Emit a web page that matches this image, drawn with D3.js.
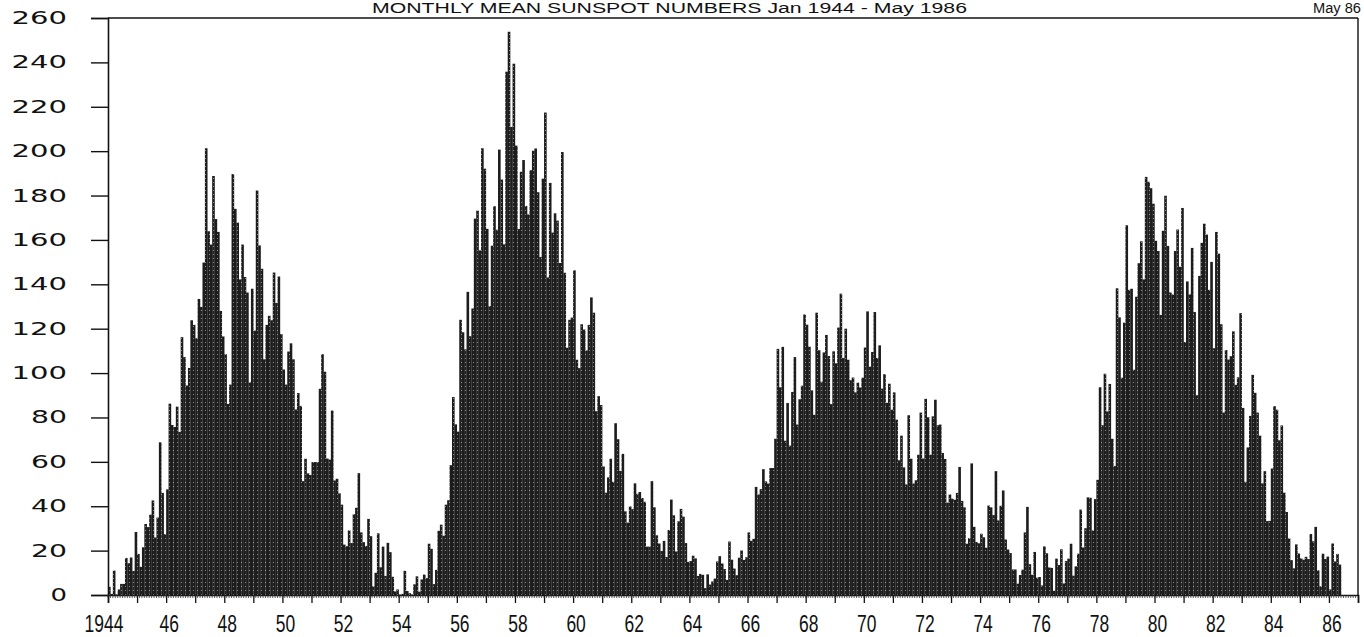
<!DOCTYPE html>
<html>
<head>
<meta charset="utf-8">
<script src="https://cdn.jsdelivr.net/npm/d3@7"></script>
<style>
  html, body { margin: 0; padding: 0; background: #fff; overflow: hidden; }
  svg { display: block; }
</style>
</head>
<body>
<svg id="chart"></svg>
<script>
// Monthly mean sunspot numbers, Jan 1944 .. May 1986 (one row per year)
const startYear = 1944;
const monthlyMean = [
  3.7, 0.5, 11.0, 0.3, 2.5, 5.0, 5.0, 16.7, 14.3, 16.9, 10.8, 28.4,            // 1944
  18.5, 12.7, 21.5, 32.0, 30.6, 36.2, 42.6, 25.9, 34.9, 68.8, 46.0, 27.4,      // 1945
  47.6, 86.2, 76.6, 75.7, 84.9, 73.5, 116.2, 107.2, 94.4, 102.3, 123.8, 121.7, // 1946
  115.7, 133.4, 129.8, 149.8, 201.3, 163.9, 157.9, 188.8, 169.4, 163.6, 128.0, 116.5, // 1947
  108.5, 86.1, 94.8, 189.7, 174.0, 167.8, 142.2, 157.9, 143.3, 136.3, 95.8, 138.0,    // 1948
  119.1, 182.3, 157.5, 147.0, 106.2, 121.7, 125.8, 123.8, 145.3, 131.6, 143.5, 117.6, // 1949
  101.6, 94.8, 109.7, 113.4, 106.2, 83.6, 91.0, 85.2, 51.3, 61.4, 54.8, 54.1,  // 1950
  59.9, 59.9, 59.9, 92.9, 108.5, 100.6, 61.5, 61.0, 83.1, 51.6, 52.4, 45.8,    // 1951
  40.7, 22.7, 22.0, 29.1, 23.4, 36.4, 39.3, 54.9, 28.2, 23.8, 22.1, 34.3,      // 1952
  26.5, 3.9, 10.0, 27.8, 12.5, 21.8, 8.6, 23.5, 19.3, 8.2, 1.6, 2.5,           // 1953
  0.2, 0.5, 10.9, 1.8, 0.8, 0.2, 4.8, 8.4, 1.5, 7.0, 9.2, 7.6,                 // 1954
  23.1, 20.8, 4.9, 11.3, 28.9, 31.7, 26.7, 40.7, 42.7, 58.5, 89.2, 76.9,       // 1955
  73.6, 124.0, 118.4, 110.7, 136.6, 116.6, 129.1, 169.6, 173.2, 155.3, 201.3, 192.1,  // 1956
  165.0, 130.2, 157.4, 175.2, 164.6, 200.7, 187.2, 158.0, 235.8, 253.8, 210.9, 239.4, // 1957
  202.5, 164.9, 190.7, 196.0, 175.3, 171.5, 191.4, 200.2, 201.2, 181.5, 152.3, 187.6, // 1958
  217.4, 143.1, 185.7, 163.3, 172.0, 168.7, 149.6, 199.6, 145.2, 111.4, 124.0, 125.0, // 1959
  146.3, 106.0, 102.2, 122.0, 119.6, 110.2, 121.7, 134.1, 127.2, 82.8, 89.6, 85.6,    // 1960
  57.9, 46.1, 53.0, 61.4, 51.0, 77.4, 70.2, 55.9, 63.6, 37.7, 32.6, 39.9,      // 1961
  38.7, 50.3, 45.6, 46.4, 43.7, 42.0, 21.8, 21.8, 51.3, 39.5, 26.9, 23.2,      // 1962
  19.8, 24.4, 17.1, 29.3, 43.0, 35.9, 19.6, 33.2, 38.8, 35.3, 23.4, 14.9,      // 1963
  15.3, 17.7, 16.5, 8.6, 9.5, 9.1, 3.1, 9.3, 4.7, 6.1, 7.4, 15.1,              // 1964
  17.5, 14.2, 11.7, 6.8, 24.1, 15.9, 11.9, 8.9, 16.8, 20.1, 15.8, 17.0,        // 1965
  28.2, 24.4, 25.3, 48.7, 45.3, 47.7, 56.7, 51.2, 50.2, 57.2, 57.2, 70.4,      // 1966
  110.9, 93.6, 111.8, 69.5, 86.5, 67.3, 91.5, 107.2, 76.8, 88.2, 94.3, 126.4,  // 1967
  121.8, 111.9, 92.2, 81.2, 127.2, 110.3, 96.1, 109.3, 117.2, 107.7, 86.0, 109.8, // 1968
  104.4, 120.5, 135.8, 106.8, 120.0, 106.0, 96.8, 98.0, 91.3, 95.7, 93.5, 97.9,  // 1969
  111.5, 127.8, 102.9, 109.5, 127.5, 106.8, 112.5, 93.0, 99.5, 86.6, 95.2, 83.5, // 1970
  91.3, 79.0, 60.7, 71.8, 57.5, 49.8, 81.0, 61.4, 50.2, 51.7, 63.2, 82.2,      // 1971
  61.5, 88.4, 80.1, 63.2, 80.5, 88.0, 76.5, 76.8, 64.0, 61.3, 41.6, 45.3,      // 1972
  43.4, 42.9, 46.0, 57.7, 42.4, 39.5, 23.1, 25.6, 59.3, 30.7, 23.9, 23.3,      // 1973
  27.6, 26.0, 21.3, 40.3, 39.5, 36.0, 55.8, 33.6, 40.2, 47.1, 25.0, 20.5,      // 1974
  18.9, 11.5, 11.5, 5.1, 9.0, 11.4, 28.2, 39.7, 13.9, 9.1, 19.4, 7.8,          // 1975
  8.1, 4.3, 21.9, 18.8, 12.4, 12.2, 1.9, 16.4, 13.5, 20.6, 5.2, 15.3,          // 1976
  16.4, 23.1, 8.7, 12.9, 18.6, 38.5, 21.4, 30.1, 44.0, 43.8, 29.1, 43.2,       // 1977
  51.9, 93.6, 76.5, 99.7, 82.7, 95.1, 70.4, 58.1, 138.2, 125.1, 97.9, 122.7,   // 1978
  166.6, 137.5, 138.0, 101.5, 134.4, 149.5, 159.4, 142.2, 188.4, 186.2, 183.3, 176.3, // 1979
  159.6, 155.0, 126.2, 164.1, 179.9, 157.3, 136.3, 135.4, 155.0, 164.7, 147.9, 174.4, // 1980
  114.0, 141.3, 135.5, 156.4, 127.5, 90.0, 143.8, 158.7, 167.3, 162.4, 137.5, 150.1,  // 1981
  111.2, 163.6, 153.8, 122.0, 82.2, 110.4, 106.1, 107.6, 118.8, 94.7, 98.1, 127.0,    // 1982
  84.3, 51.0, 66.5, 80.7, 99.2, 91.1, 82.2, 71.8, 50.3, 55.8, 33.3, 33.4,      // 1983
  57.0, 85.1, 83.5, 69.7, 76.4, 46.1, 37.4, 25.5, 15.7, 12.0, 22.8, 18.7,      // 1984
  16.5, 15.9, 17.2, 16.2, 27.5, 24.2, 30.7, 11.1, 3.9, 18.6, 16.2, 17.3,       // 1985
  2.5, 23.2, 15.1, 18.5, 13.7                                                   // 1986
];

const yTicks = [0, 20, 40, 60, 80, 100, 120, 140, 160, 180, 200, 220, 240, 260];
const xLabelYears = d3.range(1944, 1987, 2);
const xLabel = yr => (yr === 1944 ? '1944' : String(yr).slice(2));
const title = 'MONTHLY MEAN SUNSPOT NUMBERS  Jan 1944 - May 1986';
const cornerNote = 'May 86';

// Dimensions
const W = 1364, H = 637;
const plot = { left: 108, right: 1358, top: 18, bottom: 595 };

const svg = d3.select('#chart').attr('width', W).attr('height', H);

// Halftone-ish fill like the scanned original
const defs = svg.append('defs');
const pat = defs.append('pattern')
  .attr('id', 'dots')
  .attr('patternUnits', 'userSpaceOnUse')
  .attr('width', 4).attr('height', 4);
pat.append('rect').attr('width', 4).attr('height', 4).attr('fill', '#1d1d1d');
pat.append('rect').attr('x', 1).attr('y', 2).attr('width', 1).attr('height', 1).attr('fill', '#8c8c8c');

// Scales
const x = d3.scaleLinear().domain([1944, 1987]).range([plot.left, plot.right]);
const y = d3.scaleLinear().domain([0, 260]).range([plot.bottom, plot.top]);

// Bars: one per month
const bars = monthlyMean.map((v, i) => ({ t: startYear + i / 12, v }));
svg.append('g')
  .selectAll('rect')
  .data(bars)
  .enter().append('rect')
  .attr('x', d => x(d.t))
  .attr('width', d => x(d.t + 1 / 12) - x(d.t) + 0.2)
  .attr('y', d => y(d.v))
  .attr('height', d => y(0) - y(d.v))
  .attr('fill', 'url(#dots)');

// Frame
const frame = svg.append('g').attr('stroke', '#111').attr('stroke-width', 1.4).attr('fill', 'none');
frame.append('line').attr('x1', plot.left).attr('x2', plot.right).attr('y1', plot.top).attr('y2', plot.top);
frame.append('line').attr('x1', plot.right).attr('x2', plot.right).attr('y1', plot.top).attr('y2', plot.bottom);

// Y axis
const yAxis = svg.append('g')
  .attr('transform', `translate(${plot.left},0)`)
  .call(d3.axisLeft(y).tickValues(yTicks).tickSize(17).tickPadding(0).tickFormat(''));
yAxis.select('.domain').attr('stroke', '#111').attr('stroke-width', 1.6);
yAxis.selectAll('.tick line').attr('stroke', '#111').attr('stroke-width', 1.4);

svg.append('g')
  .selectAll('text')
  .data(yTicks)
  .enter().append('text')
  .attr('x', 67)
  .attr('y', d => y(d) + 6)
  .attr('text-anchor', 'end')
  .attr('textLength', d => String(d).length * 19.5 - 3)
  .attr('lengthAdjust', 'spacingAndGlyphs')
  .style('font-family', 'DejaVu Sans, sans-serif')
  .style('font-size', '17px')
  .attr('fill', '#111')
  .text(d => d);

// X axis: year ticks plus small monthly ticks
const xAxis = svg.append('g')
  .attr('transform', `translate(0,${plot.bottom})`)
  .call(d3.axisBottom(x).tickValues(d3.range(1944, 1988)).tickSize(8).tickFormat(''));
xAxis.select('.domain').attr('stroke', '#111').attr('stroke-width', 1.6);
xAxis.selectAll('.tick line').attr('stroke', '#111').attr('stroke-width', 1.3);

svg.append('g')
  .attr('transform', `translate(0,${plot.bottom})`)
  .selectAll('line')
  .data(d3.range(0, 43 * 12).map(i => startYear + i / 12))
  .enter().append('line')
  .attr('x1', d => x(d)).attr('x2', d => x(d))
  .attr('y1', 0).attr('y2', 3)
  .attr('stroke', '#333').attr('stroke-width', 0.8);

svg.append('g')
  .selectAll('text')
  .data(xLabelYears)
  .enter().append('text')
  .attr('transform', d => `translate(${x(d) + (d === 1944 ? -4 : 3)},632) scale(0.76,1)`)
  .attr('text-anchor', 'middle')
  .style('font-family', 'Liberation Sans, Arial, sans-serif')
  .style('font-size', '23px')
  .attr('fill', '#111')
  .text(xLabel);

// Title and corner note, kept just inside the top edge
svg.append('text')
  .attr('x', 372)
  .attr('y', 13)
  .attr('textLength', 595)
  .attr('lengthAdjust', 'spacingAndGlyphs')
  .style('font-family', 'Liberation Sans, Arial, sans-serif')
  .style('font-size', '14px')
  .attr('fill', '#111')
  .text(title);

svg.append('text')
  .attr('x', 1313)
  .attr('y', 13)
  .attr('textLength', 48)
  .attr('lengthAdjust', 'spacingAndGlyphs')
  .style('font-family', 'Liberation Sans, Arial, sans-serif')
  .style('font-size', '14px')
  .attr('fill', '#111')
  .text(cornerNote);
</script>
</body>
</html>
